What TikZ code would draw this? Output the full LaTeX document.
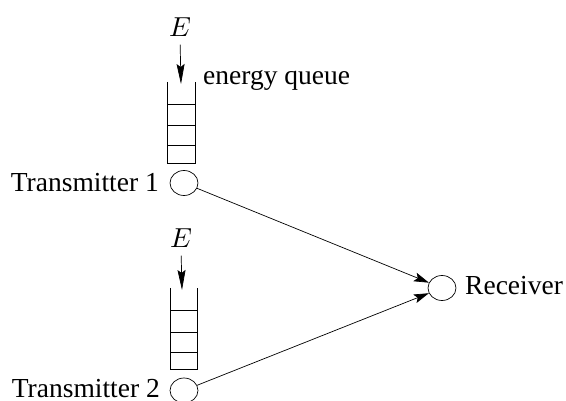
\documentclass[tikz,border=0pt]{standalone}
\usepackage{fontspec}
\setmainfont{Liberation Serif}
\usetikzlibrary{arrows.meta,shapes.geometric}

\tikzset{
  station/.style={draw, ellipse, minimum width=28pt, minimum height=25pt, inner sep=0pt, line width=0.7pt},
  link/.style={line width=0.7pt, -{Stealth[length=15pt,width=9pt,inset=3pt]}},
  feed/.style={line width=0.7pt, shorten <=7pt, -{Stealth[length=20pt,width=8pt,inset=3pt]}},
  queuebox/.style={line width=0.7pt},
  lbl/.style={inner sep=0pt, font=\fontsize{27.5}{33}\selectfont},
  sym/.style={inner sep=0pt, font=\fontsize{10}{12}\selectfont, scale=2.75}
}

\begin{document}
\begin{tikzpicture}[x=1pt,y=-1pt]
\useasboundingbox (0,0) rectangle (566,401);

% transmitters and receiver
\node[station] (t1) at (184,183) {};
\node[station] (t2) at (184,390.5) {};
\node[station] (rx) at (442,288) {};

\node[lbl, anchor=base east] (t1lbl) at (159,192) {Transmitter 1};
\node[lbl, anchor=base east] (t2lbl) at (160,397.5) {Transmitter 2};
\node[lbl, anchor=base west] (rxlbl) at (465,295) {Receiver};
\node[lbl, anchor=base west] (eqlbl) at (203,85) {energy queue};

% energy queue of transmitter 1
\draw[queuebox] (167,82) -- (167,163) -- (195,163) -- (195,82);
\foreach \y in {104,125,145} \draw[queuebox] (167,\y) -- (195,\y);

% energy queue of transmitter 2
\draw[queuebox] (170,288) -- (170,369) -- (197,369) -- (197,288);
\foreach \y in {310,332,352} \draw[queuebox] (170,\y) -- (197,\y);

% energy arrivals
\node[sym, anchor=base] (e1) at (180,37) {$E$};
\node[sym, anchor=base] (e2) at (181,248) {$E$};
\coordinate (q1top) at (181,84);
\coordinate (q2top) at (182,290);
\draw[feed] (e1.south) -- (q1top);
\draw[feed] (e2.south) -- (q2top);

% links to the receiver
\draw[link] (t1) -- (rx);
\draw[link] (t2) -- (rx);
\end{tikzpicture}
\end{document}
